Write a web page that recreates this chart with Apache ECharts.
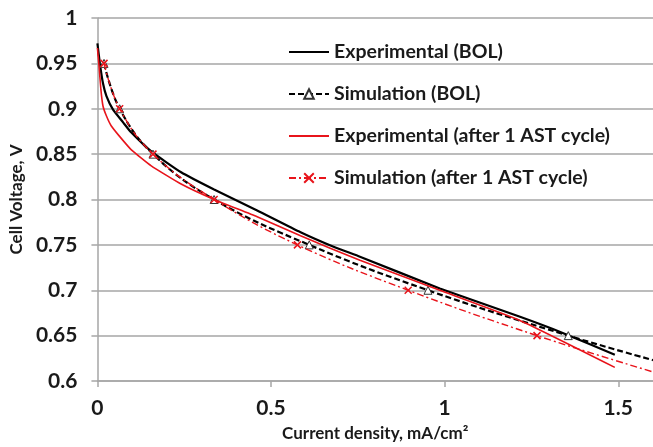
<!DOCTYPE html>
<html>
<head>
<meta charset="utf-8">
<script src="https://cdn.jsdelivr.net/npm/echarts@6/dist/echarts.min.js"></script>
<style>
  html, body { margin: 0; padding: 0; background: #fff; }
  #chart { width: 653px; height: 447px; }
</style>
</head>
<body>
<div id="chart"></div>
<script>
// values (current density mA/cm2, cell voltage V)
const expBolX = [0, 0.007, 0.016, 0.026, 0.045, 0.074, 0.097, 0.155, 0.241, 0.336, 0.46, 0.585, 0.68, 0.756, 0.986, 1.215, 1.34, 1.49];
const expBolY = [0.972, 0.95, 0.928, 0.914, 0.899, 0.885, 0.874, 0.853, 0.83, 0.811, 0.788, 0.764, 0.748, 0.737, 0.702, 0.671, 0.653, 0.629];

const simBolX = [0.019, 0.064, 0.16, 0.336, 0.61, 0.952, 1.356, 1.6];
const simBolY = [0.95, 0.90, 0.85, 0.80, 0.75, 0.70, 0.65, 0.623];

const expAstX = [0, 0.004, 0.01, 0.016, 0.026, 0.04, 0.065, 0.097, 0.155, 0.241, 0.336, 0.46, 0.585, 0.756, 0.986, 1.215, 1.49];
const expAstY = [0.967, 0.95, 0.921, 0.903, 0.892, 0.881, 0.869, 0.855, 0.837, 0.817, 0.80, 0.781, 0.76, 0.733, 0.70, 0.667, 0.615];

const simAstX = [0.019, 0.064, 0.16, 0.336, 0.576, 0.895, 1.266, 1.6];
const simAstY = [0.95, 0.90, 0.85, 0.80, 0.75, 0.70, 0.65, 0.61];

const seriesNames = [
  'Experimental (BOL)',
  'Simulation (BOL)',
  'Experimental (after 1 AST cycle)',
  'Simulation (after 1 AST cycle)'
];

const pairs = (xs, ys) => xs.map((x, i) => [x, ys[i]]);
// last point of a simulation curve is where it leaves the plot, no marker there
const simPoints = (xs, ys) => xs.map((x, i) =>
  i === xs.length - 1 ? { value: [x, ys[i]], symbol: 'none' } : [x, ys[i]]);

const FONT = 'Lato';
const TEXT = '#1a1a1a';
const GRID_COLOR = '#a6a6a6';
const RED = '#e8141b';
const CROSS = 'path://M0,0L10,10M10,0L0,10';

const chart = echarts.init(document.getElementById('chart'));

chart.setOption({
  backgroundColor: '#fff',
  animation: false,
  grid: { left: 96, right: 0, top: 18, bottom: 64, containLabel: false },
  legend: {
    orient: 'vertical',
    left: 283,
    top: 37,
    itemWidth: 40,
    itemHeight: 12,
    itemGap: 22,
    textStyle: { fontFamily: FONT, fontWeight: 'bold', fontSize: 19.5, color: TEXT },
    data: [
      { name: seriesNames[0], itemStyle: { opacity: 0 } },
      { name: seriesNames[1] },
      { name: seriesNames[2], itemStyle: { opacity: 0 } },
      { name: seriesNames[3] }
    ]
  },
  xAxis: {
    type: 'value',
    min: 0,
    max: 1.6,
    interval: 0.5,
    name: 'Current density, mA/cm²',
    nameLocation: 'middle',
    nameGap: 44,
    nameTextStyle: { fontFamily: FONT, fontWeight: 'bold', fontSize: 17, color: TEXT },
    axisLine: { show: true, lineStyle: { color: GRID_COLOR, width: 1.5 } },
    axisTick: { show: true, length: 6, lineStyle: { color: GRID_COLOR, width: 1.5 } },
    axisLabel: {
      fontFamily: FONT, fontWeight: 'bold', fontSize: 21, color: TEXT, margin: 17,
      showMaxLabel: false,
      formatter: v => String(v)
    },
    splitLine: { show: false }
  },
  yAxis: {
    type: 'value',
    min: 0.6,
    max: 1,
    interval: 0.05,
    name: 'Cell Voltage, V',
    nameLocation: 'middle',
    nameGap: 68,
    nameTextStyle: { fontFamily: FONT, fontWeight: 'bold', fontSize: 17, color: TEXT },
    axisLine: { show: true, lineStyle: { color: GRID_COLOR, width: 1.5 } },
    axisTick: { show: true, length: 6, lineStyle: { color: GRID_COLOR, width: 1.5 } },
    axisLabel: {
      fontFamily: FONT, fontWeight: 'bold', fontSize: 21, color: TEXT, margin: 20,
      formatter: v => String(+v.toFixed(2))
    },
    splitLine: { show: true, lineStyle: { color: GRID_COLOR, width: 1.5 } }
  },
  series: [
    {
      name: seriesNames[0],
      type: 'line',
      data: pairs(expBolX, expBolY),
      smooth: 0.15,
      showSymbol: false,
      symbol: 'none',
      lineStyle: { color: '#000', width: 2.2 },
      itemStyle: { color: '#000' },
      z: 2
    },
    {
      name: seriesNames[1],
      type: 'line',
      data: simPoints(simBolX, simBolY),
      smooth: 0.4,
      symbol: 'triangle',
      symbolSize: 8,
      lineStyle: { color: '#000', width: 2.2, type: [6, 3] },
      itemStyle: { color: '#fff', borderColor: '#333', borderWidth: 1 },
      z: 3
    },
    {
      name: seriesNames[2],
      type: 'line',
      data: pairs(expAstX, expAstY),
      smooth: 0.15,
      showSymbol: false,
      symbol: 'none',
      lineStyle: { color: RED, width: 1.6 },
      itemStyle: { color: RED },
      z: 4
    },
    {
      name: seriesNames[3],
      type: 'line',
      data: simPoints(simAstX, simAstY),
      smooth: 0.4,
      symbol: CROSS,
      symbolSize: 7,
      lineStyle: { color: RED, width: 1.4, type: [7, 3, 2, 3] },
      itemStyle: { color: 'none', borderColor: RED, borderWidth: 1.5 },
      z: 5
    }
  ]
});

window.addEventListener('resize', () => chart.resize());
</script>
</body>
</html>
